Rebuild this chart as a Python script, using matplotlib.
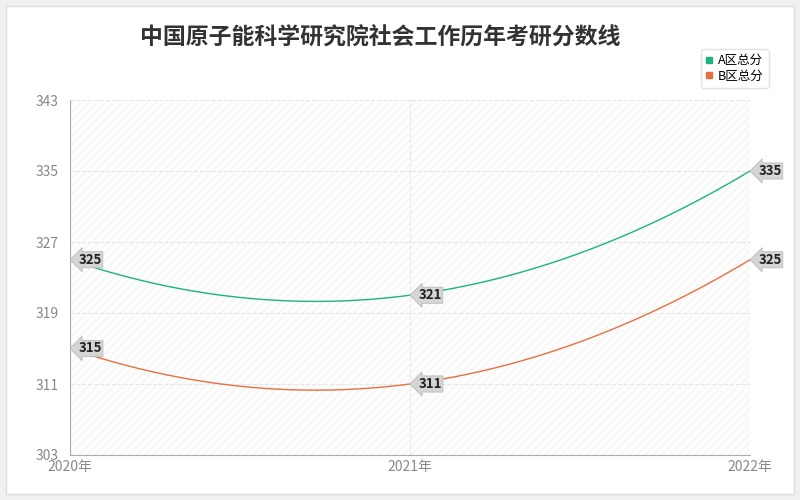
import matplotlib.pyplot as plt
import numpy as np
from matplotlib.patches import Rectangle

plt.rcParams['font.family'] = ['Noto Sans CJK SC', 'DejaVu Sans']

years = [2020, 2021, 2022]
year_labels = ['2020年', '2021年', '2022年']
a_scores = [325, 321, 335]
b_scores = [315, 311, 325]
y_ticks = [303, 311, 319, 327, 335, 343]

fig = plt.figure(figsize=(8, 5), dpi=100)
fig.patch.set_facecolor('#f0f0f0')
fig.patches.append(Rectangle((0.008, 0.012), 0.984, 0.976, transform=fig.transFigure,
                             facecolor='white', edgecolor='#dddddd', zorder=-1))
ax = fig.add_axes([70 / 800, 45 / 500, 680 / 800, 355 / 500])
ax.set_facecolor('#fdfdfd')
ax.add_patch(Rectangle((0, 0), 1, 1, transform=ax.transAxes, facecolor='none',
                       hatch='////', edgecolor='#f6f6f6', linewidth=0, zorder=0))

xs = np.linspace(years[0], years[-1], 200)
for vals, color, name in [(a_scores, '#1db37f', 'A区总分'), (b_scores, '#e8703f', 'B区总分')]:
    coef = np.polyfit(years, vals, 2)
    ax.plot(xs, np.polyval(coef, xs), color=color, lw=1, label=name)
    ax.plot([], [], 's', color=color, ms=4)
    for x, v in zip(years, vals):
        ax.annotate(str(v), (x, v), xytext=(6, 0), textcoords='offset points',
                    ha='left', va='center', fontsize=9.5, fontweight='bold', color='#222222',
                    bbox=dict(boxstyle='larrow,pad=0.08', fc='#d5d5d5', ec='#bbbbbb', lw=0.6))

ax.set_xlim(2020, 2022)
ax.set_ylim(303, 343)
ax.set_xticks(years)
ax.set_xticklabels(year_labels)
ax.set_yticks(y_ticks)
ax.tick_params(colors='#888888', labelsize=10, length=0)
ax.tick_params(axis='y', pad=8)
ax.grid(True, color='#e6e6e6', linestyle='--', lw=0.8)
for s in ['top', 'right']:
    ax.spines[s].set_visible(False)
for s in ['left', 'bottom']:
    ax.spines[s].set_color('#aaaaaa')

fig.text(380 / 800, 1 - 37 / 500, '中国原子能科学研究院社会工作历年考研分数线', ha='center', va='center',
         fontsize=16.5, fontweight='bold', color='#333333')
from matplotlib.lines import Line2D
handles = [Line2D([], [], marker='s', ls='', color='#1db37f', ms=4),
           Line2D([], [], marker='s', ls='', color='#e8703f', ms=4)]
leg = fig.legend(handles, ['A区总分', 'B区总分'], loc='upper right',
                 bbox_to_anchor=(775 / 800, 1 - 43 / 500), frameon=True,
                 handlelength=0.6, fontsize=9, borderpad=0.4, labelspacing=0.2,
                 handletextpad=0.4)
leg.get_frame().set_edgecolor('#dddddd')

fig.savefig('out.png', dpi=100, facecolor=fig.get_facecolor())
